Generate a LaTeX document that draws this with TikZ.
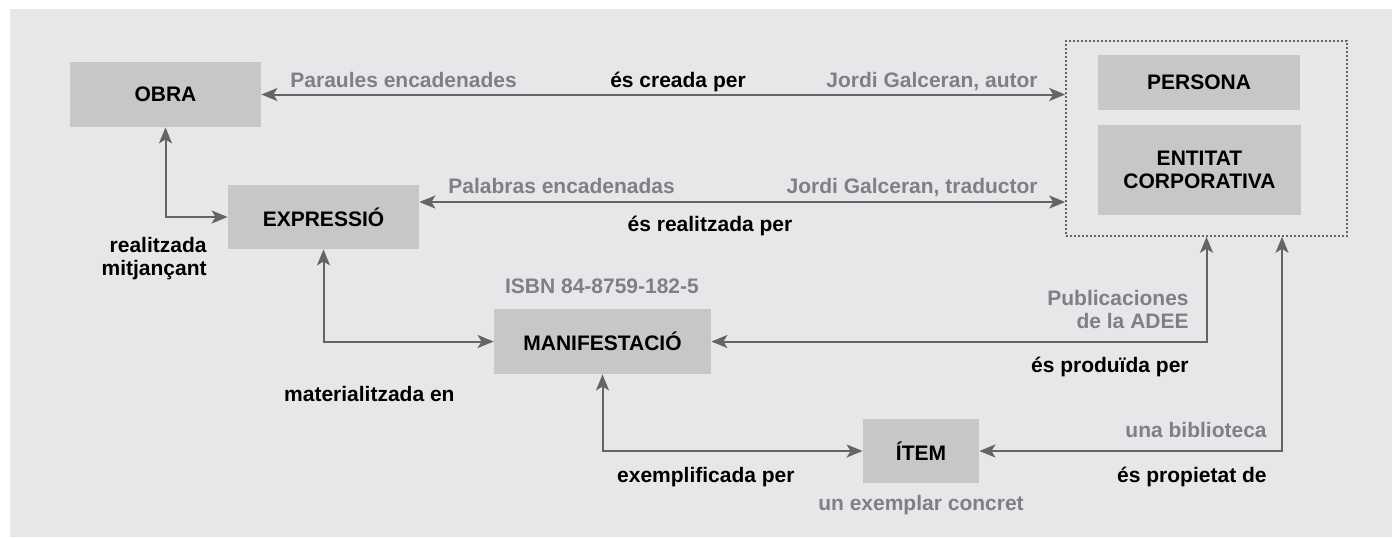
\documentclass[tikz,border=0pt]{standalone}
\usepackage{fontspec}
\setmainfont{Liberation Sans}
\usetikzlibrary{arrows.meta}
\definecolor{panel}{HTML}{E6E7E9}
\definecolor{boxgray}{HTML}{C6C7C9}
\definecolor{linegray}{HTML}{636466}
\definecolor{textgray}{HTML}{7F8083}

\begin{document}
\begin{tikzpicture}[x=0.5pt,y=-0.5pt,
	every node/.style={font=\fontsize{10.5pt}{11.5pt}\selectfont\bfseries,inner sep=0pt},
	box/.style={fill=boxgray,align=center},
	rel/.style={text=black},
	val/.style={text=textgray},
	link/.style={draw=linegray,line width=1pt,{Stealth[length=8pt,width=6.5pt,inset=2pt]}-{Stealth[length=8pt,width=6.5pt,inset=2pt]}}]
	\useasboundingbox (0,0) rectangle (1392,537);
	\fill[panel] (10,9) rectangle (1392,537);

	\node[box,minimum width=95.5pt,minimum height=32.5pt] (obra) at (165.5,94.5) {OBRA};
	\node[box,minimum width=95.5pt,minimum height=32pt] (expr) at (323.5,217) {EXPRESSIÓ};
	\node[box,minimum width=108.5pt,minimum height=32.5pt] (manif) at (602.5,341.5) {MANIFESTACIÓ};
	\node[box,minimum width=58pt,minimum height=32pt] (item) at (921,451) {ÍTEM};
	\node[box,minimum width=101pt,minimum height=27.5pt] (persona) at (1199,82.5) {PERSONA};
	\node[box,minimum width=101.5pt,minimum height=45pt] (entitat) at (1199.5,170) {ENTITAT\\CORPORATIVA};
	\node[draw=linegray,line width=0.8pt,dash pattern=on 0.8pt off 1.2pt,minimum width=140.5pt,minimum height=97.5pt] (agent) at (1206.5,138.5) {};

	\coordinate (y2) at (0,202);
	\coordinate (x5) at (1282,0);
	\draw[link] (obra.east) -- (obra.east -| agent.west);
	\draw[link] (expr.east |- y2) -- (agent.west |- y2);
	\draw[link] (obra.south) |- (expr.west);
	\draw[link] (expr.south) |- (manif.west);
	\draw[link] (manif.south) |- (item.west);
	\draw[link] (agent.south) |- (manif.east);
	\draw[link] (agent.south -| x5) |- (item.east);

	\node[val,anchor=base west] (obraval) at (290,87) {Paraules encadenades};
	\node[rel,anchor=base] (creada) at (678,87) {és creada per};
	\node[val,anchor=base east] (autor) at (1038,87) {Jordi Galceran, autor};
	\node[val,anchor=base west] (exprval) at (448,193) {Palabras encadenadas};
	\node[val,anchor=base east] (traductor) at (1038,193) {Jordi Galceran, traductor};
	\node[rel,anchor=base] (realitzadaper) at (710,231) {és realitzada per};
	\node[rel,anchor=base east,align=right] (realitzada) at (207,275) {realitzada\\mitjançant};
	\node[rel,anchor=base east] (materialitzada) at (455,401) {materialitzada en};
	\node[val,anchor=base] (isbn) at (602,293) {ISBN 84-8759-182-5};
	\node[val,anchor=base east,align=right] (editor) at (1189,328) {Publicaciones\\de la ADEE};
	\node[rel,anchor=base east] (produida) at (1189,372) {és produïda per};
	\node[rel,anchor=base east] (exemplificada) at (795,482) {exemplificada per};
	\node[val,anchor=base] (exemplar) at (921,510) {un exemplar concret};
	\node[val,anchor=base east] (biblioteca) at (1267,437) {una biblioteca};
	\node[rel,anchor=base east] (propietat) at (1267,482) {és propietat de};
\end{tikzpicture}
\end{document}
